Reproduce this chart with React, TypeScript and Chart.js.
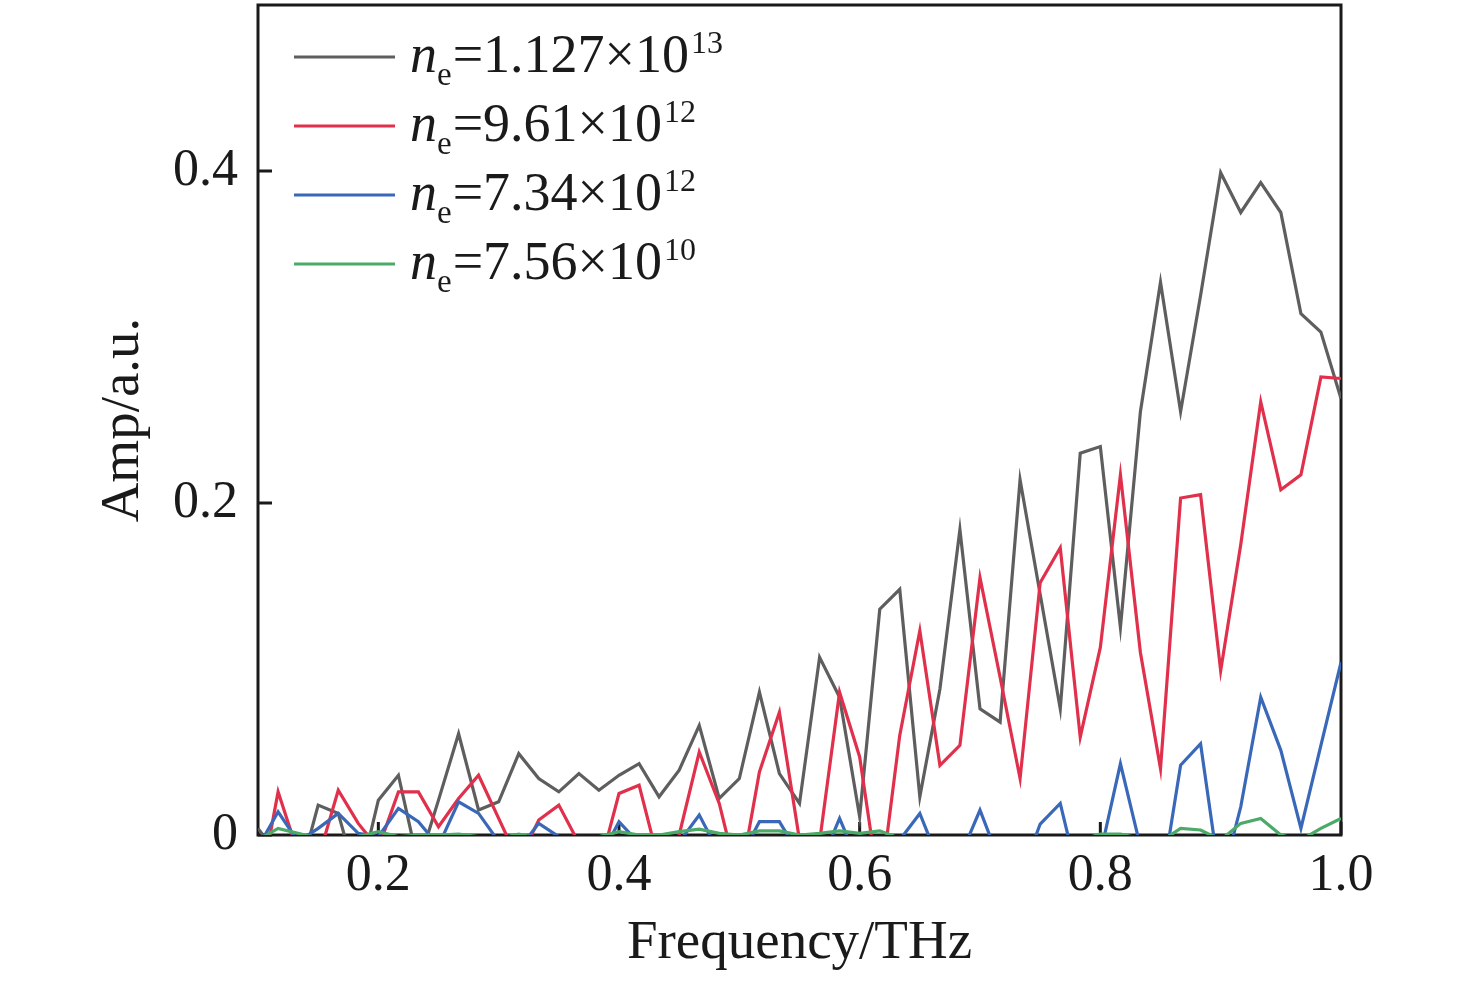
import { useEffect, useRef } from "react";
import { Chart, registerables } from "chart.js";

Chart.register(...registerables);

// Frequency axis (THz)
const frequencies = [
  0.1, 0.1167, 0.1333, 0.15, 0.1667, 0.1833, 0.2, 0.2167, 0.2333, 0.25,
  0.2667, 0.2833, 0.3, 0.3167, 0.3333, 0.35, 0.3667, 0.3833, 0.4, 0.4167,
  0.4333, 0.45, 0.4667, 0.4833, 0.5, 0.5167, 0.5333, 0.55, 0.5667, 0.5833,
  0.6, 0.6167, 0.6333, 0.65, 0.6667, 0.6833, 0.7, 0.7167, 0.7333, 0.75,
  0.7667, 0.7833, 0.8, 0.8167, 0.8333, 0.85, 0.8667, 0.8833, 0.9, 0.9167,
  0.9333, 0.95, 0.9667, 0.9833, 1.0,
];

const ampNe1127e13 = [
  0.004, -0.012, -0.027, 0.018, 0.013, -0.03, 0.021, 0.036, -0.018, 0.021,
  0.061, 0.015, 0.02, 0.049, 0.034, 0.026, 0.037, 0.027, 0.036, 0.043,
  0.023, 0.039, 0.066, 0.022, 0.034, 0.086, 0.037, 0.019, 0.107, 0.083,
  0.011, 0.136, 0.148, 0.023, 0.088, 0.184, 0.076, 0.068, 0.214, 0.145,
  0.076, 0.23, 0.234, 0.125, 0.255, 0.333, 0.255, 0.325, 0.399, 0.375,
  0.393, 0.375, 0.314, 0.303, 0.263,
];

const ampNe961e12 = [
  -0.039, 0.026, -0.011, -0.0145, 0.027, 0.007, -0.008, 0.026, 0.026, 0.005,
  0.022, 0.036, 0.01, -0.016, 0.009, 0.018, -0.005, -0.021, 0.025, 0.03,
  -0.017, 0.0, 0.05, 0.019, -0.03, 0.038, 0.074, -0.003, -0.004, 0.086,
  0.047, -0.035, 0.06, 0.123, 0.042, 0.054, 0.155, 0.095, 0.034, 0.152,
  0.173, 0.059, 0.113, 0.217, 0.11, 0.04, 0.203, 0.205, 0.099, 0.175,
  0.261, 0.208, 0.217, 0.276, 0.275,
];

const ampNe734e12 = [
  -0.0075, 0.014, -0.004, 0.004, 0.013, 0.001, -0.001, 0.016, 0.008, -0.0065,
  0.02, 0.013, -0.004, -0.0086, 0.007, -0.001, -0.01, -0.015, 0.008, -0.005,
  -0.01, -0.0043, 0.012, -0.011, -0.015, 0.008, 0.008, -0.012, -0.0186, 0.01,
  -0.0186, -0.02, -0.003, 0.013, -0.0173, -0.0135, 0.015, -0.0165, -0.026, 0.0066,
  0.019, -0.031, -0.0115, 0.043, -0.007, -0.034, 0.042, 0.055, -0.03, 0.017,
  0.083, 0.051, 0.004, 0.054, 0.104,
];

const ampNe756e10 = [
  -0.003, 0.004, 0.001, -0.002, -0.002, -0.001, 0.002, -0.001, 0, 0,
  0.0005, -0.001, -0.002, 0.0005, -0.002, -0.002, -0.002, -0.001, 0.002, 0,
  0, 0.002, 0.0035, 0.001, 0, 0.0025, 0.0025, 0, 0.001, 0.0025,
  0.001, 0.0025, -0.002, -0.003, -0.003, -0.003, -0.003, -0.003, -0.003, -0.003,
  -0.003, -0.003, 0.0005, 0.0005, -0.002, -0.004, 0.004, 0.003, -0.003, 0.007,
  0.01, 0, -0.003, 0.004, 0.01,
];

const seriesValues = [ampNe1127e13, ampNe961e12, ampNe734e12, ampNe756e10];
const legendMantissas = ["1.127", "9.61", "7.34", "7.56"];
const legendExponents = ["13", "12", "12", "10"];
const seriesColors = ["#5e5e5e", "#e0304b", "#3a68b8", "#4caa68"];

const xTicks = [0.2, 0.4, 0.6, 0.8, 1.0];
const yTicks = [0, 0.2, 0.4];

const FONT = '"Liberation Serif", "Times New Roman", serif';
const INK = "#1a1a1a";

const framePlugin = {
  id: "frameTicks",
  beforeDatasetsDraw(chart: any) {
    const { ctx, chartArea: a, scales } = chart;
    ctx.save();
    ctx.strokeStyle = INK;
    ctx.lineWidth = 3;
    ctx.strokeRect(a.left, a.top, a.right - a.left, a.bottom - a.top);
    ctx.beginPath();
    for (const v of xTicks) {
      const px = scales.x.getPixelForValue(v);
      ctx.moveTo(px, a.bottom);
      ctx.lineTo(px, a.bottom - 13);
    }
    for (const v of yTicks) {
      const py = scales.y.getPixelForValue(v);
      ctx.moveTo(a.left, py);
      ctx.lineTo(a.left + 14, py);
    }
    ctx.stroke();
    ctx.restore();
  },
};

const legendPlugin = {
  id: "sciLegend",
  afterDatasetsDraw(chart: any) {
    const { ctx, chartArea: a } = chart;
    ctx.save();
    chart.data.datasets.forEach((ds: any, i: number) => {
      const lineY = a.top + 52 + i * 69;
      ctx.strokeStyle = ds.borderColor;
      ctx.lineWidth = 3.2;
      ctx.beginPath();
      ctx.moveTo(a.left + 36, lineY);
      ctx.lineTo(a.left + 137, lineY);
      ctx.stroke();

      const base = lineY + 15;
      let x = a.left + 152;
      ctx.fillStyle = INK;
      ctx.textAlign = "left";
      ctx.textBaseline = "alphabetic";
      ctx.font = `italic 54px ${FONT}`;
      ctx.fillText("n", x, base);
      x += ctx.measureText("n").width;
      ctx.font = `33px ${FONT}`;
      ctx.fillText("e", x, base + 13);
      x += ctx.measureText("e").width + 1;
      ctx.font = `54px ${FONT}`;
      const main = "=" + legendMantissas[i] + "\u00d710";
      ctx.fillText(main, x, base);
      x += ctx.measureText(main).width + 2;
      ctx.font = `32px ${FONT}`;
      ctx.fillText(legendExponents[i], x, base - 19);
    });
    ctx.restore();
  },
};

export default function App() {
  const canvasRef = useRef<HTMLCanvasElement | null>(null);

  useEffect(() => {
    if (!canvasRef.current) return;
    const datasets = seriesValues.map((vals, i) => ({
      label: `ne=${legendMantissas[i]}×10^${legendExponents[i]}`,
      data: frequencies.map((f, j) => ({ x: f, y: vals[j] })),
      borderColor: seriesColors[i],
      backgroundColor: seriesColors[i],
      borderWidth: 3.2,
      pointRadius: 0,
      tension: 0,
      fill: false,
      order: 4 - i,
    }));

    const chart = new Chart(canvasRef.current, {
      type: "line",
      data: { datasets },
      options: {
        animation: false,
        responsive: false,
        layout: { padding: { left: 0, top: 5, right: 135, bottom: 0 } },
        plugins: {
          legend: { display: false },
          tooltip: { enabled: false },
        },
        scales: {
          x: {
            type: "linear",
            min: 0.1,
            max: 1.0,
            grid: { display: false, drawTicks: false },
            border: { display: false },
            afterBuildTicks: (s: any) => {
              s.ticks = xTicks.map((value) => ({ value }));
            },
            afterFit: (s: any) => {
              s.height = 151;
              s.paddingLeft = 0;
              s.paddingRight = 0;
            },
            ticks: {
              padding: 10,
              autoSkip: false,
              maxRotation: 0,
              color: INK,
              font: { family: FONT, size: 52 },
              callback: (v: any) => Number(v).toFixed(1),
            },
            title: {
              display: true,
              text: "Frequency/THz",
              color: INK,
              font: { family: FONT, size: 55 },
              padding: { top: 0, bottom: 9 },
            },
          },
          y: {
            type: "linear",
            min: 0,
            max: 0.5,
            grid: { display: false, drawTicks: false },
            border: { display: false },
            afterBuildTicks: (s: any) => {
              s.ticks = yTicks.map((value) => ({ value }));
            },
            afterFit: (s: any) => {
              s.width = 258;
              s.paddingTop = 0;
              s.paddingBottom = 0;
            },
            ticks: {
              padding: 20,
              autoSkip: false,
              color: INK,
              font: { family: FONT, size: 52 },
              callback: (v: any) => (Number(v) === 0 ? "0" : Number(v).toFixed(1)),
            },
            title: {
              display: true,
              text: "Amp/a.u.",
              color: INK,
              font: { family: FONT, size: 55 },
              padding: { top: 91, bottom: 0 },
            },
          },
        },
      },
      plugins: [framePlugin, legendPlugin],
    } as any);

    return () => chart.destroy();
  }, []);

  return (
    <div
      style={{
        position: "fixed",
        left: 0,
        top: 0,
        width: 1476,
        height: 986,
        background: "#ffffff",
      }}
    >
      <canvas
        ref={canvasRef}
        width={1476}
        height={986}
        style={{ display: "block", width: 1476, height: 986 }}
      />
    </div>
  );
}
